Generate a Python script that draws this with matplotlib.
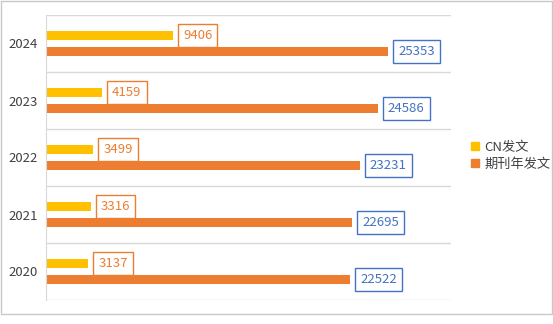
import numpy as np
import matplotlib.pyplot as plt
from matplotlib.patches import Rectangle
from matplotlib.lines import Line2D

plt.rcParams['font.family'] = ['Noto Sans CJK SC', 'DejaVu Sans']

years = ['2020', '2021', '2022', '2023', '2024']
cn_posts = [3137, 3316, 3499, 4159, 9406]
journal_posts = [22522, 22695, 23231, 24586, 25353]
series_names = ['CN发文', '期刊年发文']

yellow = '#FFC000'
orange = '#ED7D31'
blue = '#4472C4'
grid_c = '#D9D9D9'
text_c = '#404040'

W, H = 553, 324
fig = plt.figure(figsize=(W / 100, H / 100), dpi=100)
ax = fig.add_axes([46 / W, 1 - 300 / H, (451 - 46) / W, (300 - 15) / H])

y = np.arange(len(years))
bh = 0.155
off = 0.135
ax.barh(y + off, cn_posts, height=bh, color=yellow)
ax.barh(y - off, journal_posts, height=bh, color=orange)

for i in range(len(years)):
    ax.annotate(str(cn_posts[i]), (cn_posts[i], y[i] + off), xytext=(10, 0),
                textcoords='offset pixels', va='center', ha='left',
                fontsize=9.5, color=orange,
                bbox=dict(boxstyle='square,pad=0.38', fc='white', ec=orange, lw=1))
    ax.annotate(str(journal_posts[i]), (journal_posts[i], y[i] - off), xytext=(10, 0),
                textcoords='offset pixels', va='center', ha='left',
                fontsize=9.5, color=blue,
                bbox=dict(boxstyle='square,pad=0.38', fc='white', ec=blue, lw=1))

ax.set_xlim(0, 30000)
ax.set_ylim(-0.5, len(years) - 0.5)
for b in np.arange(-0.5, len(years), 1.0):
    ax.axhline(b, color=grid_c, lw=1, zorder=0)
ax.set_yticks(y)
ax.set_yticklabels(years, fontsize=9.5, color=text_c)
ax.set_xticks([])
ax.tick_params(axis='y', length=0, pad=6)
for s in ['top', 'right', 'bottom']:
    ax.spines[s].set_visible(False)
ax.spines['left'].set_color(grid_c)

handles = [Line2D([], [], marker='s', ls='', color=c, markersize=6)
           for c in (yellow, orange)]
fig.legend(handles, series_names, loc='center left',
           bbox_to_anchor=(462 / W, 1 - 156 / H), frameon=False,
           fontsize=9.5, labelcolor=text_c, handletextpad=0.2,
           handlelength=1.0, labelspacing=0.3, borderpad=0)

fig.add_artist(Rectangle((0.5 / W, 1 - 314 / H), (W - 1.5) / W, 313 / H,
                         transform=fig.transFigure, fill=False,
                         ec='#C8C8C8', lw=1))

fig.savefig('out.png', dpi=100)
